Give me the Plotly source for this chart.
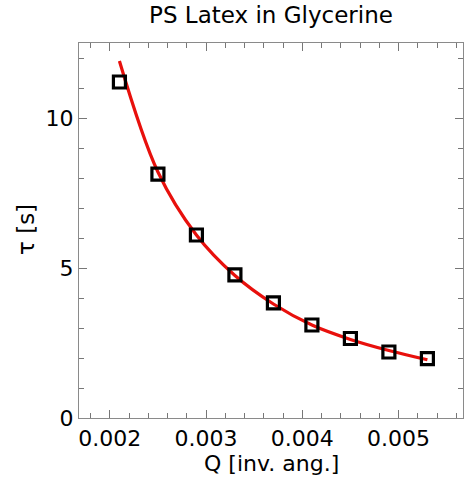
import plotly.graph_objects as go

q_vals = [0.0021, 0.0025, 0.0029, 0.0033, 0.0037, 0.0041, 0.0045, 0.0049, 0.0053]
tau_vals = [11.2, 8.13, 6.1, 4.77, 3.84, 3.1, 2.65, 2.2, 1.98]
fit_vals = [11.9, 8.2, 6.1, 4.75, 3.8, 3.1, 2.62, 2.25, 1.94]

title_text = "PS Latex in Glycerine"
x_title = "Q [inv. ang.]"
y_title = "τ [s]"
x_ticks = [0.002, 0.003, 0.004, 0.005]
y_ticks = [0, 5, 10]

FONT = "DejaVu Sans, Liberation Sans, Arial, sans-serif"

fig = go.Figure()
fig.add_trace(go.Scatter(x=q_vals, y=fit_vals, mode="lines", line=dict(color="#e8100c", width=3.2, shape="spline"), showlegend=False))
fig.add_trace(go.Scatter(x=q_vals, y=tau_vals, mode="markers",
                         marker=dict(symbol="square-open", size=12, color="black", line=dict(color="black", width=3.2)),
                         showlegend=False))

axis_common = dict(showgrid=False, zeroline=False, showline=True, linecolor="#8a8a8a", linewidth=1.2,
                   mirror="allticks", ticks="inside", ticklen=8, tickwidth=1.2, tickcolor="#777777",
                   tickfont=dict(family=FONT, size=22, color="black"))

fig.update_layout(
    width=464, height=480,
    margin=dict(l=79, r=1, t=43, b=62),
    paper_bgcolor="white", plot_bgcolor="white",
    title=dict(text=title_text, x=0.5, xref="paper", y=1 - 15 / 480, yref="container", yanchor="middle",
               font=dict(family=FONT, size=23, color="black")),
    xaxis=dict(range=[0.00168, 0.00567], tickvals=x_ticks, ticktext=[f"{v:.3f}" for v in x_ticks],
               ticklabelstandoff=0,
               minor=dict(dtick=0.0002, tick0=0.002, ticks="inside", ticklen=5, tickcolor="#777777", tickwidth=1),
               **axis_common),
    yaxis=dict(range=[0, 12.5], tickvals=y_ticks,
               minor=dict(dtick=1, tick0=0, ticks="inside", ticklen=5, tickcolor="#777777", tickwidth=1),
               **axis_common),
    annotations=[
        dict(text=x_title, xref="paper", yref="paper", x=0.5, y=-(463 - 418) / 375, yanchor="middle",
             showarrow=False, font=dict(family=FONT, size=22, color="black")),
        dict(text=y_title, xref="paper", yref="paper", x=-(79 - 26) / 384, y=(418 - 230) / 375, xanchor="center",
             yanchor="middle", textangle=-90, showarrow=False, font=dict(family=FONT, size=23, color="black")),
    ],
)

fig.write_html("out.html")
